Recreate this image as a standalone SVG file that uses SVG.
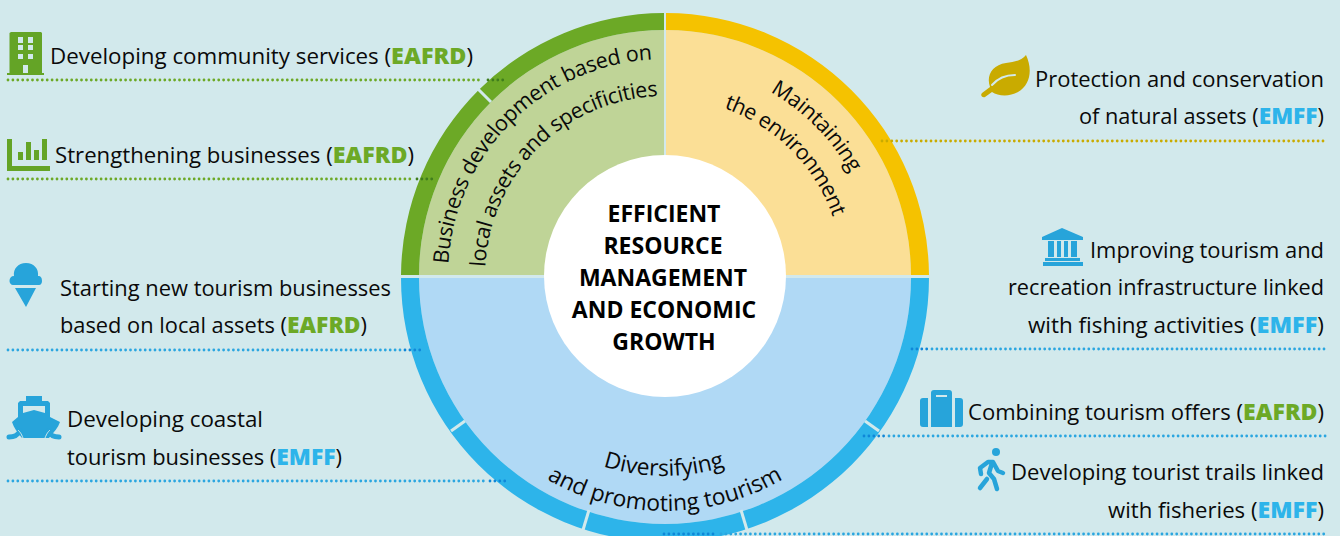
<svg xmlns="http://www.w3.org/2000/svg" width="1340" height="536" viewBox="0 0 1340 536">
<style>
text{font-family:"Open Sans","Noto Sans","Liberation Sans",sans-serif;fill:#0a0a0a}
.t{font-size:22px}
.g{font-weight:800;fill:#6ca926;font-size:23px}
.b{font-weight:800;fill:#2db4ea;font-size:23px}
.c{font-size:23px;font-weight:700;text-anchor:middle;fill:#000}
.a{font-size:21.500px;letter-spacing:-.3px}
.a2{font-size:22.800px}
.dg,.db,.dy,.dgd,.dbd{fill:none;stroke-width:2.8;stroke-linecap:round;stroke-dasharray:0 4.9}
.dg{stroke:#6ca926}.db{stroke:#2ba6e0}.dy{stroke:#c9ab00}.dgd{stroke:#3f7d1c}.dbd{stroke:#0f87d8}
.ig{fill:#64a426}.ib{fill:#27a4da}
</style>
<defs>
<path id="p1" d="M448 276A217 217 0 0 1 665 59"/>
<path id="p2" d="M485 276A180 180 0 0 1 665 96"/>
<path id="p3" d="M665 64A212 212 0 0 1 877 276"/>
<path id="p4" d="M665 98A178 178 0 0 1 843 276"/>
<path id="p5" d="M430 276A235 235 0 0 0 900 276"/>
<path id="p6" d="M464 276A200 200 0 0 0 864 276"/>
</defs>
<rect width="1340" height="536" fill="#d2e9ec"/>
<g id="wheel">
<path d="M419 275A246 246 0 0 1 664 30V275Z" fill="#bfd497"/>
<path d="M666 30A246 246 0 0 1 911 275H666Z" fill="#fbdf96"/>
<path d="M419 278H911A246 246 0 0 1 419 278Z" fill="#b0d9f5"/>
<path d="M401 275A264 264 0 0 1 664 13V30A246 246 0 0 0 419 275Z" fill="#6ca926"/>
<path d="M666 13A264 264 0 0 1 929 275H911A246 246 0 0 0 666 30Z" fill="#f5c200"/>
<path d="M401 278H419A246 246 0 0 0 911 278H929A264 264 0 0 1 401 278Z" fill="#2db4ea"/>
<g stroke="#d2e9ec" stroke-width="3" fill="none">
<path d="M491 102L478 89"/>
<path d="M465 421L451 431"/><path d="M865 421L879 431"/>
<path d="M589 510L583 530"/><path d="M741 510L747 530"/>
</g>
<circle cx="665" cy="276" r="121" fill="#fff"/>
</g>
<g id="connectors">
<path class="dg" d="M8 80H483"/><path class="dgd" d="M488 80H507"/>
<path class="dg" d="M8 179H412"/><path class="dgd" d="M417 179H432"/>
<path class="db" d="M8 350H402"/><path class="dbd" d="M405 350H420"/>
<path class="db" d="M8 481H486"/><path class="dbd" d="M490 481H507"/>
<path class="dy" d="M882 141H1326"/>
<path class="dbd" d="M912 349H927"/><path class="db" d="M932 349H1326"/>
<path class="dbd" d="M864 436H884"/><path class="db" d="M889 436H1326"/>
<path class="dbd" d="M664 534H716"/><path class="db" d="M721 534H1326"/>
</g>
<g id="center-label">
<text class="c" x="664" y="222">EFFICIENT</text>
<text class="c" x="663" y="254">RESOURCE</text>
<text class="c" x="663" y="286">MANAGEMENT</text>
<text class="c" x="664" y="318">AND ECONOMIC</text>
<text class="c" x="664" y="350">GROWTH</text>
</g>
<g id="sector-labels">
<text class="a"><textPath href="#p1" startOffset="12">Business development based on</textPath></text>
<text class="a" style="letter-spacing:-.42px"><textPath href="#p2" startOffset="9">local assets and specificities</textPath></text>
<text class="a"><textPath href="#p3" startOffset="110">Maintaining</textPath></text>
<text class="a" style="letter-spacing:-.6px"><textPath href="#p4" startOffset="60">the environment</textPath></text>
<text class="a2"><textPath href="#p5" startOffset="50%" text-anchor="middle">and promoting tourism</textPath></text>
<text class="a2"><textPath href="#p6" startOffset="50%" text-anchor="middle">Diversifying</textPath></text>
</g>
<g id="node-community">
<path class="ig" fill-rule="evenodd" d="M11 32H41L42 33V73H44V75H7V73H9.500V33ZM18 37V43H23V37ZM28 37V43H33V37ZM18 45V50H23V45ZM28 45V50H33V45ZM18 54V59H23V54ZM28 54V59H33V54ZM23 65V73H28V65Z"/>
<text class="t" x="50" y="64" textLength="423" lengthAdjust="spacingAndGlyphs">Developing community services (<tspan class="g">EAFRD</tspan>)</text>
</g>
<g id="node-businesses">
<path class="ig" d="M7 139H12V166H50V171H7ZM18 152H23V160H18ZM26 142H31V160H26ZM34 150H39V160H34ZM42 139H47V160H42Z"/>
<text class="t" x="55" y="163" textLength="359" lengthAdjust="spacingAndGlyphs">Strengthening businesses (<tspan class="g">EAFRD</tspan>)</text>
</g>
<g id="node-starting">
<path class="ib" d="M14 276C13 269 18 263 26 263C34 263 39 269 38 276C41 276 42 278 42 281C42 283 41 285 39 285H13C11 285 9.500 283 9.500 281C9.500 278 11 276 14 276ZM15 288H36L26 307Z"/>
<text class="t" x="60" y="296" textLength="331" lengthAdjust="spacingAndGlyphs">Starting new tourism businesses</text>
<text class="t" x="60" y="333" textLength="307" lengthAdjust="spacingAndGlyphs">based on local assets (<tspan class="g">EAFRD</tspan>)</text>
</g>
<g id="node-coastal">
<path class="ib" fill-rule="evenodd" d="M26 396H42V401H48L50 403V417L60 422C58 428 54 432 49 438H22C17 432 14 428 12 422L18 417V403L20 401H26ZM23 406V413L34 410L45 413V406Z"/>
<path d="M9 437C14 437 18 435 20 431M59 437C54 437 50 435 48 431" fill="none" stroke="#27a4da" stroke-width="5" stroke-linecap="round"/>
<path d="M18 430C20 432 21 433 23 438M50 430C48 432 47 433 45 438" fill="none" stroke="#d2e9ec" stroke-width="1"/>
<text class="t" x="67" y="427" textLength="196" lengthAdjust="spacingAndGlyphs">Developing coastal</text>
<text class="t" x="67" y="465" textLength="275" lengthAdjust="spacingAndGlyphs">tourism businesses (<tspan class="b">EMFF</tspan>)</text>
</g>
<g id="node-protection">
<path fill="#c9ab00" d="M1026 55C1033 70 1030 85 1018 92C1009 97 998 96 992 92L985 97C982 98 980 95 982 93L990 87C986 76 992 65 1006 63C1014 62 1021 61 1026 55Z"/>
<path d="M992 85C998 78 1006 75 1015 75" fill="none" stroke="#d2e9ec" stroke-width="2" stroke-linecap="round"/>
<text class="t" x="1035" y="87" textLength="289" lengthAdjust="spacingAndGlyphs">Protection and conservation</text>
<text class="t" x="1079" y="124" textLength="245" lengthAdjust="spacingAndGlyphs">of natural assets (<tspan class="b">EMFF</tspan>)</text>
</g>
<g id="node-infrastructure">
<path class="ib" d="M1062 228L1083 237V240H1042V237ZM1048 241H1054V257H1048ZM1057 241H1061V257H1057ZM1064 241H1068V257H1064ZM1071 241H1077V257H1071ZM1045 258H1080V261H1045ZM1043 262H1083V266H1043Z"/>
<text class="t" x="1090" y="258" textLength="234" lengthAdjust="spacingAndGlyphs">Improving tourism and</text>
<text class="t" x="1008" y="295" textLength="316" lengthAdjust="spacingAndGlyphs">recreation infrastructure linked</text>
<text class="t" x="1028" y="333" textLength="296" lengthAdjust="spacingAndGlyphs">with fishing activities (<tspan class="b">EMFF</tspan>)</text>
</g>
<g id="node-combining">
<path class="ib" fill-rule="evenodd" d="M923 398H928V427H923Q920 427 920 424V401Q920 398 923 398ZM955 398H960Q963 398 963 401V424Q963 427 960 427H955ZM934 390H949Q952 390 952 393V427H931V393Q931 390 934 390ZM936 395V397H947V395Z"/>
<text class="t" x="968" y="420" textLength="356" lengthAdjust="spacingAndGlyphs">Combining tourism offers (<tspan class="g">EAFRD</tspan>)</text>
</g>
<g id="node-trails">
<circle class="ib" cx="996" cy="452" r="4"/>
<path d="M981 474L980 468L988 462H993L998 471L1003 473M992 463L989 473L994 479L997 489M987 479L980 488" fill="none" stroke="#27a4da" stroke-width="4.500" stroke-linecap="round" stroke-linejoin="round"/>
<text class="t" x="1011" y="480" textLength="313" lengthAdjust="spacingAndGlyphs">Developing tourist trails linked</text>
<text class="t" x="1108" y="518" textLength="216" lengthAdjust="spacingAndGlyphs">with fisheries (<tspan class="b">EMFF</tspan>)</text>
</g>
</svg>
